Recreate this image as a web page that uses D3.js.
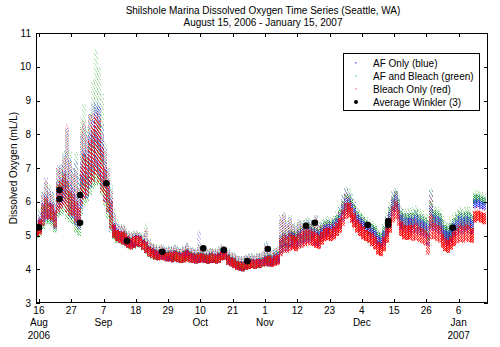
<!DOCTYPE html>
<html>
<head>
<meta charset="utf-8">
<script src="https://cdn.jsdelivr.net/npm/d3@7"></script>
<style>
  html, body { margin: 0; padding: 0; background: #fff; }
  svg { display: block; }
  text { font-family: "Liberation Sans", Arial, Helvetica, sans-serif; fill: #000; }
</style>
</head>
<body>
<svg id="chart" width="500" height="347"></svg>
<script>
// Daily dissolved-oxygen readings (mL/L), one entry per day starting 15 Aug 2006.
// lo/hi = dense band of readings, pk = highest scattered readings of the day.
const redLo = [
  5.0,5.05,5.3,5.5,5.5,5.45,5.25,5.7,5.8,5.9,
  5.7,5.6,5.6,5.4,5.3,5.9,6.1,6.2,6.5,6.6,
  6.8,6.6,6.3,6.0,5.7,5.2,4.95,4.85,4.8,4.75,
  4.72,4.65,4.6,4.65,4.7,4.68,4.6,4.5,4.4,4.35,
  4.3,4.28,4.3,4.28,4.25,4.25,4.22,4.25,4.22,4.2,
  4.22,4.25,4.22,4.2,4.18,4.2,4.22,4.2,4.18,4.2,
  4.2,4.18,4.2,4.28,4.3,4.15,4.1,4.05,4.0,3.97,
  3.95,4.0,4.02,4.05,4.03,4.06,4.05,4.1,4.12,4.1,
  4.08,4.12,4.15,4.4,4.5,4.5,4.55,4.6,4.55,4.62,
  4.65,4.7,4.75,4.72,4.7,4.65,4.62,4.75,4.85,4.88,
  4.85,4.9,5.0,5.1,5.3,5.5,5.55,5.4,5.25,5.1,
  5.0,4.9,4.85,4.8,4.7,4.6,4.45,4.4,4.55,4.8,
  5.1,5.4,5.5,5.3,5.0,4.9,4.88,4.9,4.85,4.88,
  4.82,4.78,4.72,4.45,4.9,4.9,4.85,4.8,4.65,4.55,
  4.5,4.6,4.7,4.78,4.82,4.8,4.85,4.82,4.8,5.4,
  5.45,5.4,5.35
];
const redHi = [
  5.3,5.45,5.9,6.1,5.95,5.9,5.7,6.5,6.6,6.8,
  6.6,6.3,6.2,6.0,5.8,7.0,7.4,7.3,7.8,8.2,
  8.5,8.4,7.6,7.0,6.5,6.0,5.3,5.15,5.1,5.1,
  5.05,4.95,4.9,4.95,4.98,4.95,4.85,4.78,4.65,4.6,
  4.55,4.52,4.55,4.5,4.48,4.5,4.48,4.52,4.48,4.45,
  4.5,4.55,4.48,4.45,4.42,4.45,4.45,4.42,4.4,4.45,
  4.42,4.4,4.45,4.52,4.5,4.4,4.33,4.3,4.22,4.2,
  4.18,4.2,4.25,4.27,4.25,4.28,4.27,4.3,4.35,4.38,
  4.32,4.4,4.42,4.9,5.0,4.95,5.05,5.0,4.95,5.05,
  5.1,5.15,5.2,5.15,5.1,5.05,5.0,5.1,5.2,5.22,
  5.18,5.25,5.35,5.5,5.75,5.95,5.95,5.8,5.65,5.45,
  5.35,5.25,5.15,5.1,5.05,4.95,4.8,4.75,4.95,5.2,
  5.5,5.85,6.0,5.75,5.4,5.3,5.28,5.3,5.3,5.35,
  5.25,5.2,5.15,5.05,5.6,5.35,5.3,5.25,5.05,4.9,
  4.85,4.95,5.1,5.2,5.3,5.25,5.3,5.28,5.2,5.7,
  5.72,5.68,5.65
];
const redPk = [
  5.4,5.6,6.2,6.65,6.3,6.2,5.9,7.0,7.0,7.3,
  8.3,7.2,6.8,6.9,6.4,8.2,8.4,7.9,8.6,8.6,
  8.7,8.6,8.0,7.5,6.9,6.3,5.6,5.3,5.3,5.3,
  5.2,5.1,5.05,5.1,5.1,5.05,5.0,5.2,4.85,4.75,
  4.7,4.65,4.7,4.65,4.62,4.65,4.62,4.7,4.62,4.6,
  4.65,4.75,4.62,4.6,4.58,4.7,4.62,4.58,4.55,4.6,
  4.58,4.55,4.62,4.7,4.65,4.55,4.48,4.45,4.38,4.35,
  4.35,4.4,4.42,4.42,4.4,4.45,4.45,4.5,4.7,4.55,
  4.5,4.6,4.62,5.5,5.6,5.3,5.5,5.3,5.2,5.4,
  5.3,5.35,5.4,5.35,5.3,5.55,5.3,5.3,5.35,5.38,
  5.35,5.4,5.5,5.7,6.0,6.3,6.15,6.0,5.85,5.6,
  5.5,5.4,5.3,5.25,5.2,5.1,4.95,4.9,5.1,5.4,
  5.7,6.1,6.3,5.9,5.6,5.45,5.45,5.5,5.5,5.5,
  5.4,5.4,5.3,5.3,6.2,5.55,5.45,5.4,5.2,5.05,
  5.0,5.1,5.3,5.35,5.45,5.4,5.45,5.45,5.35,5.85,
  5.85,5.8,5.8
];

const blueLo = [
  5.0,5.1,5.3,5.45,5.5,5.4,5.2,5.7,5.8,5.9,
  5.7,5.55,5.5,5.3,5.2,5.8,6.1,6.1,6.4,6.6,
  6.9,6.7,6.4,6.0,5.7,5.2,4.95,4.85,4.8,4.75,
  4.72,4.65,4.62,4.65,4.7,4.68,4.6,4.5,4.4,4.35,
  4.3,4.28,4.3,4.28,4.25,4.25,4.22,4.25,4.22,4.2,
  4.22,4.25,4.22,4.2,4.18,4.2,4.22,4.2,4.18,4.2,
  4.2,4.18,4.2,4.28,4.3,4.15,4.1,4.05,4.0,3.97,
  3.95,4.0,4.02,4.05,4.03,4.06,4.05,4.1,4.12,4.1,
  4.1,4.15,4.18,4.45,4.55,4.55,4.6,4.65,4.6,4.68,
  4.72,4.78,4.82,4.8,4.78,4.72,4.7,4.82,4.92,4.95,
  4.95,5.0,5.1,5.22,5.42,5.62,5.68,5.55,5.4,5.25,
  5.15,5.05,5.0,4.95,4.88,4.78,4.62,4.58,4.72,4.98,
  5.28,5.58,5.7,5.5,5.2,5.1,5.08,5.12,5.08,5.1,
  5.05,5.0,4.95,4.7,5.15,5.15,5.1,5.05,4.88,4.78,
  4.72,4.82,4.95,5.02,5.08,5.05,5.1,5.08,5.05,5.82,
  5.85,5.8,5.78
];
const blueHi = [
  5.35,5.5,5.95,6.2,6.0,5.95,5.75,6.6,6.7,6.9,
  6.8,6.5,6.4,6.2,6.0,7.2,7.5,7.5,8.0,8.4,
  8.8,8.8,7.9,7.2,6.6,6.1,5.35,5.2,5.12,5.1,
  5.05,4.97,4.92,4.97,5.0,4.97,4.87,4.8,4.67,4.62,
  4.57,4.54,4.57,4.52,4.5,4.52,4.5,4.54,4.5,4.47,
  4.52,4.57,4.5,4.47,4.44,4.47,4.47,4.44,4.42,4.47,
  4.44,4.42,4.47,4.54,4.52,4.42,4.35,4.32,4.24,4.22,
  4.2,4.22,4.27,4.29,4.27,4.3,4.3,4.33,4.38,4.41,
  4.36,4.44,4.47,4.95,5.05,5.0,5.1,5.06,5.02,5.12,
  5.18,5.23,5.28,5.24,5.2,5.15,5.1,5.2,5.3,5.33,
  5.3,5.38,5.48,5.65,5.9,6.1,6.1,5.95,5.8,5.6,
  5.5,5.42,5.32,5.28,5.22,5.13,4.98,4.93,5.12,5.38,
  5.7,6.05,6.2,5.95,5.6,5.52,5.5,5.52,5.52,5.58,
  5.48,5.43,5.38,5.28,5.85,5.6,5.55,5.5,5.3,5.15,
  5.1,5.2,5.35,5.45,5.55,5.5,5.55,5.53,5.45,6.05,
  6.05,6.0,5.98
];
const bluePk = [
  5.5,5.7,6.3,6.7,6.4,6.3,6.0,7.1,7.1,7.4,
  8.2,7.3,7.0,7.2,6.8,8.0,8.3,8.0,8.6,8.9,
  8.95,8.9,8.3,7.6,7.0,6.4,5.7,5.4,5.3,5.3,
  5.22,5.12,5.08,5.12,5.12,5.08,5.02,5.15,4.88,4.78,
  4.72,4.68,4.72,4.68,4.65,4.68,4.65,4.72,4.65,4.62,
  4.68,4.78,4.65,4.62,4.6,5.15,4.65,4.6,4.58,4.62,
  4.6,4.58,4.65,4.72,4.68,4.58,4.5,4.48,4.4,4.38,
  4.38,4.42,4.45,4.45,4.42,4.48,4.48,4.52,4.8,4.58,
  4.55,4.62,4.65,5.6,5.65,5.4,5.55,5.35,5.3,5.45,
  5.4,5.45,5.5,5.45,5.4,5.6,5.35,5.4,5.45,5.48,
  5.45,5.5,5.6,5.85,6.2,6.4,6.3,6.15,6.0,5.75,
  5.65,5.55,5.45,5.4,5.35,5.25,5.1,5.05,5.3,5.6,
  5.9,6.3,6.4,6.1,5.8,5.65,5.65,5.7,5.7,5.75,
  5.62,5.6,5.5,5.45,6.35,5.75,5.7,5.65,5.45,5.3,
  5.25,5.35,5.5,5.6,5.7,5.65,5.7,5.7,5.6,6.2,
  6.2,6.15,6.12
];

const greenLo = [
  4.95,5.0,5.2,5.35,5.35,5.3,5.1,5.55,5.6,5.7,
  5.5,5.4,5.35,5.1,5.0,5.6,5.9,6.0,6.2,6.4,
  6.5,6.5,6.2,5.9,5.5,5.1,4.9,4.8,4.78,4.75,
  4.7,4.63,4.6,4.63,4.68,4.66,4.58,4.48,4.38,4.33,
  4.3,4.28,4.3,4.28,4.25,4.25,4.22,4.25,4.22,4.2,
  4.22,4.25,4.22,4.2,4.18,4.2,4.22,4.2,4.18,4.2,
  4.2,4.18,4.2,4.28,4.3,4.15,4.1,4.05,4.0,3.97,
  3.95,4.0,4.02,4.05,4.03,4.06,4.05,4.1,4.12,4.1,
  4.12,4.18,4.22,4.5,4.62,4.62,4.68,4.72,4.68,4.75,
  4.8,4.85,4.9,4.88,4.85,4.8,4.78,4.92,5.02,5.05,
  5.05,5.1,5.2,5.32,5.52,5.72,5.78,5.65,5.5,5.35,
  5.25,5.15,5.1,5.05,4.98,4.88,4.72,4.68,4.82,5.08,
  5.38,5.68,5.8,5.6,5.3,5.2,5.2,5.22,5.2,5.22,
  5.18,5.12,5.08,4.8,5.25,5.28,5.22,5.18,5.0,4.9,
  4.85,4.95,5.08,5.15,5.2,5.18,5.22,5.2,5.18,5.95,
  6.0,5.95,5.92
];
const greenHi = [
  5.3,5.45,5.9,6.1,5.95,5.9,5.7,6.5,6.6,6.8,
  6.6,6.3,6.2,6.0,5.8,7.0,7.4,7.3,7.7,8.0,
  8.3,8.3,7.6,7.0,6.5,6.0,5.3,5.15,5.1,5.1,
  5.07,4.98,4.93,4.98,5.01,4.98,4.88,4.81,4.68,4.63,
  4.58,4.55,4.58,4.53,4.51,4.53,4.51,4.55,4.51,4.48,
  4.53,4.58,4.51,4.48,4.45,4.48,4.48,4.45,4.43,4.48,
  4.45,4.43,4.48,4.55,4.53,4.43,4.36,4.33,4.25,4.23,
  4.21,4.23,4.28,4.3,4.28,4.31,4.31,4.35,4.4,4.43,
  4.4,4.48,4.52,5.0,5.1,5.05,5.15,5.12,5.08,5.18,
  5.25,5.3,5.35,5.32,5.28,5.22,5.18,5.3,5.4,5.43,
  5.4,5.48,5.58,5.75,6.0,6.2,6.2,6.05,5.9,5.7,
  5.6,5.52,5.42,5.38,5.32,5.25,5.1,5.05,5.25,5.5,
  5.82,6.15,6.3,6.05,5.72,5.65,5.62,5.65,5.65,5.72,
  5.62,5.58,5.52,5.42,6.0,5.75,5.7,5.65,5.45,5.3,
  5.25,5.35,5.5,5.6,5.7,5.65,5.7,5.68,5.6,6.2,
  6.2,6.15,6.12
];
const greenPk = [
  5.5,5.8,6.3,6.6,6.5,6.3,6.1,7.0,7.1,7.5,
  8.1,7.5,7.0,7.5,6.8,8.5,8.9,8.2,8.6,9.6,
  10.5,10.0,9.2,7.8,7.0,6.5,5.8,5.5,5.35,5.3,
  5.25,5.15,5.1,5.15,5.15,5.1,5.05,5.35,4.9,4.8,
  4.75,4.7,4.75,4.7,4.68,4.7,4.68,4.75,4.68,4.65,
  4.7,4.8,4.68,4.65,4.62,4.75,4.68,4.62,4.6,4.65,
  4.62,4.6,4.68,4.75,4.7,4.6,4.52,4.5,4.42,4.4,
  4.4,4.45,4.48,4.48,4.45,4.5,4.5,4.55,4.85,4.6,
  4.58,4.65,4.7,5.5,5.7,5.45,5.6,5.4,5.35,5.5,
  5.45,5.5,5.55,5.5,5.45,5.6,5.4,5.5,5.55,5.58,
  5.55,5.6,5.7,5.9,6.2,6.45,6.4,6.25,6.1,5.85,
  5.75,5.65,5.55,5.5,5.45,5.35,5.2,5.15,5.4,5.7,
  6.0,6.35,6.4,6.2,5.9,5.8,5.8,5.85,5.85,5.9,
  5.8,5.75,5.65,5.6,6.4,5.9,5.85,5.8,5.6,5.45,
  5.4,5.5,5.65,5.75,5.85,5.8,5.85,5.85,5.75,6.35,
  6.35,6.3,6.25
];

// Average Winkler titration results
const winklerDates = [
  "2006-08-16","2006-08-23","2006-08-23","2006-08-30","2006-08-30","2006-09-08",
  "2006-09-15","2006-09-27","2006-10-11","2006-10-18","2006-10-26","2006-11-02",
  "2006-11-15","2006-11-18","2006-12-06","2006-12-13","2006-12-13","2007-01-04"
];
const winklerValues = [
  5.24,6.35,6.08,6.2,5.38,6.55,
  4.84,4.52,4.62,4.57,4.24,4.6,
  5.29,5.38,5.31,5.43,5.31,5.23
];

// Axis ticks
const tickDates = [
  "2006-08-16","2006-08-27","2006-09-07","2006-09-18","2006-09-29","2006-10-10","2006-10-21",
  "2006-11-01","2006-11-12","2006-11-23","2006-12-04","2006-12-15","2006-12-26","2007-01-06"
];
const monthLabels = { "2006-08-16": "Aug", "2006-09-07": "Sep", "2006-10-10": "Oct",
  "2006-11-01": "Nov", "2006-12-04": "Dec", "2007-01-06": "Jan" };
const yearLabels = { "2006-08-16": "2006", "2007-01-06": "2007" };
const yTicks = [3, 4, 5, 6, 7, 8, 9, 10, 11];

const legendLabels = ["AF Only (blue)", "AF and Bleach (green)", "Bleach Only (red)", "Average Winkler (3)"];

const parse = d3.timeParse("%Y-%m-%d");
const start = new Date(2006, 7, 15);
const end = new Date(2007, 0, 16);

const svg = d3.select("#chart");
const L = 36, R = 488, T = 33, B = 303;

const x = d3.scaleTime().domain([start, end]).range([L, R]);
const y = d3.scaleLinear().domain([3, 11]).range([B, T]);

svg.append("rect").attr("x", 0).attr("y", 0).attr("width", 500).attr("height", 347).attr("fill", "#fff");

const plot = svg.append("g");
const clip = svg.append("clipPath").attr("id", "clip");
clip.append("rect").attr("x", L).attr("y", T).attr("width", R - L).attr("height", B - T);
plot.attr("clip-path", "url(#clip)");

// Series drawn as speckled daily columns: a band of readings whose dot density
// thins out as the daily spread widens, plus sparse scatter up to the daily peak
const series = [
  { lo: greenLo, hi: greenHi, pk: greenPk, color: "#17a317", off: 1, dash: 1 },
  { lo: blueLo,  hi: blueHi,  pk: bluePk,  color: "#1f1fff", off: 0, dash: 1 },
  { lo: redLo,   hi: redHi,   pk: redPk,   color: "#ff0000", off: 1, dash: 1.6 }
];

series.forEach((s, si) => {
  const g = plot.append("g");
  s.lo.forEach((lo, d) => {
    const x0 = x(d3.timeDay.offset(start, d));
    const x1 = x(d3.timeDay.offset(start, d + 1));
    const yHi = y(s.hi[d]), yLo = y(lo), yPk = y(s.pk[d]);
    const span = yLo - yHi;
    const gap = span > 14 ? Math.min(2.6, span / 14) : (si === 2 ? 0.7 : 1);
    const period = s.dash + gap;
    let col = 0;
    for (let px = Math.floor(x0); px < x1; px++, col++) {
      g.append("line")
        .attr("x1", px + 0.5).attr("x2", px + 0.5)
        .attr("y1", yLo + 0.5).attr("y2", yHi - 0.5)
        .attr("stroke", s.color).attr("stroke-width", 1)
        .attr("stroke-opacity", span > 14 ? 0.8 : 1)
        .attr("stroke-dasharray", s.dash + "," + gap)
        .attr("stroke-dashoffset", ((col + d + s.off) * 1.3) % period);
      if (yPk < yHi - 1) {
        g.append("line")
          .attr("x1", px + 0.5).attr("x2", px + 0.5)
          .attr("y1", yHi).attr("y2", yPk)
          .attr("stroke", s.color).attr("stroke-width", 1)
          .attr("stroke-opacity", 0.5)
          .attr("stroke-dasharray", "1,4")
          .attr("stroke-dashoffset", (col * 1.7 + d + si) % 5);
      }
    }
  });
});

// Winkler points
plot.append("g").selectAll("circle")
  .data(winklerValues)
  .join("circle")
  .attr("cx", (v, i) => x(parse(winklerDates[i])))
  .attr("cy", v => y(v))
  .attr("r", 3.3)
  .attr("fill", "#000");

// Frame and axes (ticks pointing inward on all four sides)
const axisG = svg.append("g");
axisG.append("rect").attr("x", L + 0.5).attr("y", T + 0.5).attr("width", R - L - 1).attr("height", B - T - 1)
  .attr("fill", "none").attr("stroke", "#000").attr("stroke-width", 1);

const tickDateObjs = tickDates.map(parse);
tickDateObjs.forEach(dt => {
  const tx = Math.round(x(dt)) + 0.5;
  axisG.append("line").attr("x1", tx).attr("x2", tx).attr("y1", B).attr("y2", B - 4).attr("stroke", "#000");
  axisG.append("line").attr("x1", tx).attr("x2", tx).attr("y1", T).attr("y2", T + 4).attr("stroke", "#000");
});
yTicks.forEach(v => {
  const ty = Math.round(y(v)) + 0.5;
  axisG.append("line").attr("x1", L).attr("x2", L + 4).attr("y1", ty).attr("y2", ty).attr("stroke", "#000");
  axisG.append("line").attr("x1", R).attr("x2", R - 4).attr("y1", ty).attr("y2", ty).attr("stroke", "#000");
});

const fmtDay = d3.timeFormat("%-d");
const xLab = svg.append("g").attr("font-size", 10).attr("text-anchor", "middle");
tickDates.forEach((ds, i) => {
  const tx = x(tickDateObjs[i]);
  xLab.append("text").attr("x", tx).attr("y", 314).text(fmtDay(tickDateObjs[i]));
  if (monthLabels[ds]) xLab.append("text").attr("x", tx).attr("y", 326).text(monthLabels[ds]);
  if (yearLabels[ds]) xLab.append("text").attr("x", tx).attr("y", 339).text(yearLabels[ds]);
});

const yLab = svg.append("g").attr("font-size", 10).attr("text-anchor", "end");
yTicks.forEach(v => {
  yLab.append("text").attr("x", 31).attr("y", y(v) + 3.5).text(v);
});

svg.append("text").attr("transform", "translate(17,168) rotate(-90)")
  .attr("text-anchor", "middle").attr("font-size", 10).text("Dissolved Oxygen  (mL/L)");

svg.append("text").attr("x", 263).attr("y", 14).attr("text-anchor", "middle").attr("font-size", 10)
  .text("Shilshole Marina Dissolved Oxygen Time Series (Seattle, WA)");
svg.append("text").attr("x", 263).attr("y", 26).attr("text-anchor", "middle").attr("font-size", 10)
  .text("August 15, 2006 - January 15, 2007");

// Legend
const leg = svg.append("g");
leg.append("rect").attr("x", 343.5).attr("y", 53.5).attr("width", 136).attr("height", 57)
  .attr("fill", "#fff").attr("stroke", "#000");
const legColors = ["#6a6aff", "#8fd88f", "#ff8a8a"];
legendLabels.forEach((t, i) => {
  const ly = 63 + i * 13;
  if (i < 3) {
    leg.append("rect").attr("x", 355).attr("y", ly - 1).attr("width", 1.5).attr("height", 1.5).attr("fill", legColors[i]);
  } else {
    leg.append("circle").attr("cx", 356).attr("cy", ly).attr("r", 2).attr("fill", "#000");
  }
  leg.append("text").attr("x", 373).attr("y", ly + 3.5).attr("font-size", 10).text(t);
});
</script>
</body>
</html>
